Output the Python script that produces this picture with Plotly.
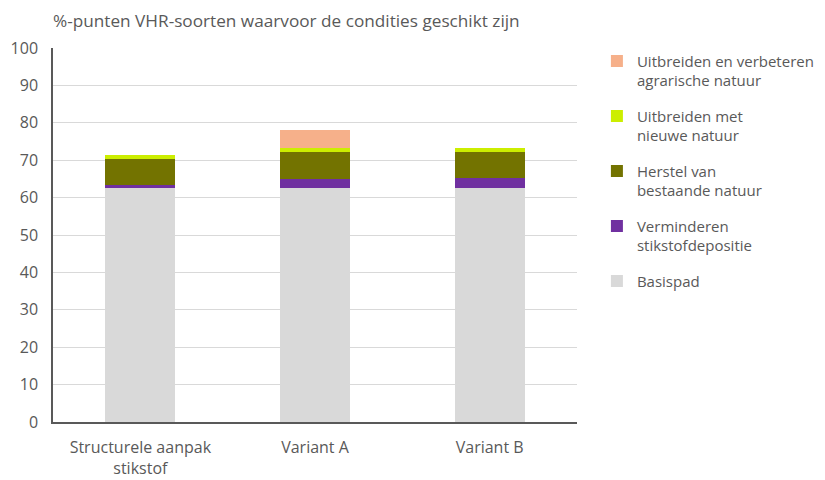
import plotly.graph_objects as go

categories = ["Structurele aanpak<br>stikstof", "Variant A", "Variant B"]
basispad = [62.5, 62.5, 62.5]
verminderen = [0.8, 2.6, 2.8]
herstel = [7.0, 7.2, 7.0]
nieuwe_natuur = [1.1, 0.9, 0.9]
agrarisch = [0.0, 4.9, 0.0]

series = [
    ("Basispad", basispad, "#d9d9d9"),
    ("Verminderen<br>stikstofdepositie", verminderen, "#7030a0"),
    ("Herstel van<br>bestaande natuur", herstel, "#737300"),
    ("Uitbreiden met<br>nieuwe natuur", nieuwe_natuur, "#ccee00"),
    ("Uitbreiden en verbeteren<br>agrarische natuur", agrarisch, "#f6b08a"),
]

fig = go.Figure()
for i, (name, vals, col) in enumerate(series):
    fig.add_trace(go.Bar(x=categories, y=vals, name=name, legendgroup=f"g{i}",
                         legendrank=1000 - i,
                         marker=dict(color=col, line=dict(width=0))))

font = "Open Sans, Noto Sans, sans-serif"
fig.update_layout(
    barmode="stack",
    bargap=0.6,
    width=825, height=480,
    margin=dict(l=45, r=256, t=40, b=66, autoexpand=False),
    paper_bgcolor="white", plot_bgcolor="white",
    font=dict(family=font, size=16, color="#595959"),
    showlegend=True,
    legend=dict(traceorder="grouped", x=1.038, y=1.009, xanchor="left", yanchor="top",
                font=dict(size=15, color="#595959"), itemwidth=30, tracegroupgap=13,
                itemsizing="constant", maxheight=420, valign="top"),
    annotations=[dict(text="%-punten VHR-soorten waarvoor de condities geschikt zijn",
                      xref="paper", yref="paper", x=0.0, y=1.0, yshift=41, xshift=-2,
                      xanchor="left", yanchor="top", showarrow=False,
                      font=dict(size=17.2, color="#595959", family=font))],
)
fig.update_yaxes(range=[0, 100], dtick=10, showgrid=True, gridcolor="#d9d9d9", gridwidth=1,
                 showline=True, linecolor="#595959", linewidth=1.5, ticks="", zeroline=False,
                 ticklabelstandoff=10, automargin=False,
                 tickfont=dict(size=16, color="#595959"))
fig.update_xaxes(showline=True, linecolor="#595959", linewidth=1.5, ticks="",
                 automargin=False, ticklabelstandoff=10,
                 tickfont=dict(size=16, color="#595959"))
fig.write_html("out.html")
